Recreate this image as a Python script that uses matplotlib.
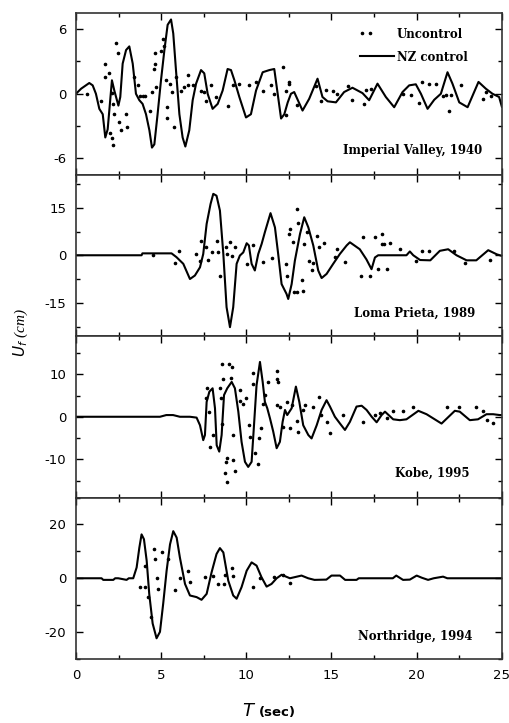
import matplotlib
matplotlib.use("Agg")
import matplotlib.pyplot as plt
import numpy as np
from matplotlib.ticker import MultipleLocator
from matplotlib.legend_handler import HandlerLine2D

plt.rcParams['axes.unicode_minus'] = False

# ---- Imperial Valley, 1940 ----
iv_t = [0, 0.3, 0.78, 0.98, 1.17, 1.37, 1.57, 1.72, 1.86, 2.05, 2.11, 2.25, 2.49, 2.6, 2.74, 2.94,
        3.13, 3.33, 3.52, 3.72, 3.91, 4.11, 4.31, 4.46, 4.6, 4.79, 4.99, 5.19, 5.38, 5.58, 5.71,
        5.87, 6.07, 6.26, 6.42, 6.65, 6.85, 7.05, 7.34, 7.53, 7.73, 8.02, 8.32, 8.61, 8.9, 9.1,
        9.3, 9.59, 9.98, 10.27, 10.57, 10.96, 11.35, 11.64, 11.84, 12.04, 12.23, 12.43, 12.62,
        12.81, 13.3, 13.69, 14.18, 14.47, 14.77, 15.26, 15.74, 16.23, 16.82, 17.21, 17.7, 18.19,
        18.68, 19.17, 19.56, 19.95, 20.25, 20.64, 21.03, 21.42, 21.81, 22.1, 22.5, 22.99, 23.63,
        24.06, 24.45, 24.84, 25.0]
iv_nz = [0, 0.47, 1.0, 0.78, 0, -1.4, -1.9, -4.06, -3.3, 0.16, 1.25, 0.3, -1.1, -0.3, 2.8, 4.06,
         4.4, 2.8, 0, -0.6, -0.94, -1.9, -3.4, -5.0, -4.7, -1.9, 1.25, 4.06, 6.4, 6.9, 5.6,
         2.2, -1.9, -4.06, -4.9, -3.4, -0.6, 0.94, 2.2, 1.9, 0, -1.4, -0.94, 0.3, 2.3, 2.2,
         1.25, -0.3, -2.2, -1.9, 0.3, 2.0, 2.2, 2.3, 0, -2.3, -1.9, -0.8, 0,
         0.16, -1.56, -0.47, 1.4, -0.3, -0.7, -0.8, 0.16, 0.56, 0.06, -0.6, 0.94, -0.3,
         -1.25, 0.16, 0.78, 0.88, 0, -1.4, -0.56, 0, 2.0, 0.94, -0.8, -1.25, 1.1,
         0.47, 0, -0.3, -1.2]
iv_dot_t = [0.65, 1.47, 1.72, 1.72, 1.96, 2.0, 2.11, 2.11, 2.15, 2.19, 2.25, 2.35, 2.45, 2.54,
            2.64, 2.94, 2.97, 3.42, 3.62, 3.78, 3.91, 4.05, 4.34, 4.46, 4.6, 4.66, 4.66, 4.7,
            4.99, 5.13, 5.19, 5.28, 5.32, 5.32, 5.54, 5.64, 5.77, 5.87, 6.16, 6.36, 6.56, 6.56,
            6.85, 7.34, 7.53, 7.63, 7.93, 8.22, 8.9, 9.2, 9.55, 10.18, 10.57, 10.96, 11.45,
            11.64, 12.17, 12.33, 12.52, 12.52, 12.32, 13.0, 14.08, 14.37, 14.67, 15.06, 15.35,
            15.94, 16.23, 16.92, 17.02, 17.31, 19.17, 19.66, 20.15, 20.34, 20.73, 21.12, 21.52,
            21.71, 21.91, 22.0, 22.6, 23.87, 24.06, 24.36]
iv_dot_u = [-0.06, -0.7, 2.8, 1.56, 1.9, -3.66, 0.06, -4.1, -4.75, -0.94, -1.9, 4.7, 3.8, -2.66,
            -3.4, -1.9, -3.1, 1.56, 0.78, -0.25, -0.25, -0.25, -1.56, 0.16, 2.3, 2.8, 3.8, 0.63,
            4.0, 5.06, 4.4, 1.25, -1.25, -2.25, 0.94, 0.16, -3.1, 1.56, 0.3, 0.63, 1.7, 0.78,
            0.78, 0.3, 0.16, -0.7, 0.78, -0.3, -1.1, 0.78, 0.88, 0.84, 1.1, 0.3, 0.78,
            0, 2.5, 0.25, 1.1, 0.94, -2.0, -1.0, 0.7, -0.7, 0.38, 0.3, -0.06,
            0.7, -0.6, -0.94, 0.38, 0.47, 0, -0.15, -0.9, 1.1, 0.94, 0.94, -0.25,
            -0.15, -1.56, -0.15, 0.78, -0.47, 0.16, -0.25]

# ---- Loma Prieta, 1989 ----
lp_t = [0, 3.85, 3.9, 5.1, 5.61, 5.9, 6.3, 6.69, 6.98, 7.28, 7.47, 7.67, 7.9, 8.06, 8.25, 8.45,
        8.65, 8.84, 9.04, 9.23, 9.43, 9.62, 9.82, 10.02, 10.15, 10.31, 10.5, 10.7, 10.9, 11.09,
        11.42, 11.68, 11.87, 12.07, 12.36, 12.46, 12.66, 12.85, 13.15, 13.4, 13.64, 13.93,
        14.22, 14.42, 14.71, 15.1, 15.49, 15.89, 16.08, 16.66, 17.05, 17.35, 17.55, 17.74,
        19.4, 19.6, 19.8, 20.2, 20.8, 21.36, 21.85, 22.34, 22.93, 23.5, 24.2, 24.7, 25.0]
lp_nz = [0, 0, 0.6, 0.6, 0.6, -0.6, -2.7, -7.5, -6.4, -3.8, 0.4, 9.9, 16.2, 19.4, 18.8, 14.1,
         0.4, -16.4, -22.7, -16.4, -2.7, -0.1, 0.9, 3.8, 3.1, -2.7, -4.8, 0.4, 3.6, 7.3,
         13.3, 8.8, 0.4, -9.1, -12.2, -13.8, -9.1, -1.7, 6.7, 12.0, 8.8, 3.1,
         -4.8, -7.2, -5.9, -2.7, 0.4, 3.1, 4.1, 1.9, -1.3, -4.4, -0.7, 0,
         0, 1.2, 0, -1.5, -1.6, 1.4, 1.9, 0, -1.6, -1.6, 1.6, 0.3, -0.2]
lp_dot_t = [4.54, 5.8, 6.04, 7.02, 7.28, 7.33, 7.63, 7.76, 7.96, 8.25, 8.35, 8.45, 8.8, 8.88,
            9.07, 9.13, 9.33, 10.02, 10.41, 11.0, 11.48, 12.32, 12.36, 12.56, 12.52, 12.72,
            12.8, 12.95, 12.99, 13.05, 13.24, 13.3, 13.38, 13.54, 13.69, 13.83, 13.93, 14.12,
            14.28, 14.55, 15.2, 15.3, 15.79, 16.86, 17.55, 17.94, 17.94, 18.1, 16.76, 17.25,
            17.74, 18.23, 18.43, 19.0, 19.99, 20.3, 20.7, 22.2, 22.83, 24.3]
lp_dot_u = [0, -2.5, 1.3, 0.4, -1.9, 4.6, 2.7, -1.5, 0.9, 4.6, 0.9, -6.4, 2.5, 0.4,
            4.1, -0.1, 2.7, -2.7, 3.1, -2.2, -0.8, -2.7, -6.4, 8.3, 6.7, 4.1,
            -11.7, -11.7, 14.6, 10.1, -7.8, -11.2, 3.6, 7.3, -1.7, -4.8, -2.5, 6.2,
            2.7, 3.8, -0.6, 2.0, -2.2, 5.8, 5.8, 6.6, 3.5, 3.5, -6.5, -6.5,
            -4.4, -4.4, 4.0, 1.9, -1.8, 1.2, 1.2, 1.4, -2.3, -1.6]

# ---- Kobe, 1995 ----
kb_t = [0, 4.93, 5.3, 5.7, 6.1, 6.69, 7.08, 7.28, 7.47, 7.57, 7.67, 7.83, 8.02, 8.16, 8.26,
        8.41, 8.55, 8.69, 8.88, 9.14, 9.33, 9.53, 9.72, 9.92, 10.11, 10.31, 10.45, 10.6, 10.8,
        10.96, 11.09, 11.23, 11.39, 11.58, 11.78, 11.97, 12.13, 12.27, 12.4, 12.66, 12.91,
        13.11, 13.34, 13.64, 13.83, 14.13, 14.42, 14.71, 14.91, 15.2, 15.5, 15.79, 16.08,
        16.47, 16.77, 17.06, 17.36, 17.65, 17.94, 18.14, 18.62, 19.01, 19.4, 20.1, 20.58,
        21.46, 22.24, 22.53, 23.12, 23.6, 24.1, 24.49, 24.88, 25.0]
kb_nz = [0, 0, 0.4, 0.4, 0, 0, -0.2, -2.0, -5.5, -4.3, 3.5, 5.9, 6.7, 2.0, -6.7,
         -8.2, -4.3, 5.1, 6.7, 8.2, 6.7, 1.2, -5.9, -10.6, -11.8, -10.6, -2.0, 7.4, 12.9,
         8.2, 3.5, 2.0, -0.4, -3.5, -7.4, -5.9, -1.2, 1.6, 0.4, 2.0, 7.1,
         3.5, -2.0, -4.3, -5.1, -2.0, 1.6, 3.9, 2.4, 0, -1.6, -3.1, -1.2,
         2.4, 2.6, 1.6, 0, -1.3, 0.4, 1.2, -0.6, -0.8, -0.6, 1.4, 0.6,
         -1.6, 1.4, 1.2, -0.8, -0.6, 0.6, 0.6, 0.4, 0.4]
kb_dot_t = [8.59, 9.0, 9.14, 8.65, 9.1, 7.71, 7.63, 7.8, 8.06, 7.86, 8.45, 8.49, 8.55, 8.84,
            8.8, 8.74, 8.88, 9.19, 9.33, 9.23, 9.62, 9.62, 9.82, 9.98, 10.17, 10.21, 10.37,
            10.41, 10.5, 10.7, 10.76, 10.84, 10.99, 11.09, 11.29, 11.82, 11.78, 11.88, 11.78,
            11.97, 12.36, 12.17, 12.56, 12.66, 12.95, 13.05, 13.34, 13.44, 13.93, 14.28, 14.36,
            14.71, 14.91, 15.69, 16.87, 17.55, 17.84, 18.24, 18.62, 19.2, 19.8, 21.78, 22.5,
            23.5, 23.9, 24.1, 24.5]
kb_dot_u = [12.3, 12.3, 11.8, 9.0, 9.2, 6.7, 4.3, 1.2, -4.3, -7.1, 6.7, 4.3, -1.6, -9.8,
            -10.7, -13.3, -15.3, -10.2, -12.8, -4.3, 6.3, 3.7, 3.1, 4.3, -2.0, -4.7, 10.4,
            7.8, -8.6, -11.0, -5.1, -2.7, 3.1, 5.1, 8.2, 10.7, 8.9, 8.2, 2.7,
            2.4, 3.5, -2.4, -2.6, 2.7, -1.0, -3.5, 1.6, 2.7, 2.4, 4.7, 0.4,
            -1.2, -3.9, 0.4, -1.3, 0.5, 1.0, -0.4, 1.4, 1.4, 2.2, 2.2, 2.2,
            2.2, 1.4, -0.8, -1.4]

# ---- Northridge, 1994 ----
nr_t = [0, 1.5, 1.6, 2.19, 2.3, 2.48, 2.97, 3.1, 3.36, 3.56, 3.72, 3.85, 3.99, 4.15, 4.3, 4.5,
        4.73, 4.93, 5.12, 5.32, 5.52, 5.71, 5.91, 6.1, 6.4, 6.69, 7.08, 7.37, 7.67, 7.96, 8.25,
        8.45, 8.65, 8.94, 9.23, 9.43, 9.72, 10.02, 10.31, 10.6, 10.89, 11.19, 11.48, 11.78,
        12.07, 12.56, 13.24, 13.63, 14.0, 14.7, 15.0, 15.5, 15.8, 16.47, 16.6, 18.6, 18.8,
        19.2, 19.6, 20.0, 20.3, 20.67, 21.0, 21.55, 21.8, 25.0]
nr_nz = [0, 0, -0.6, -0.6, 0, 0, -0.6, 0, 0, 4.0, 11.4, 16.3, 14.5, 6.5, -5.8, -16.8,
         -22.3, -19.9, -9.4, 2.8, 12.6, 17.5, 15.1, 7.7, -2.1, -6.4, -7.0, -8.0, -5.8, 2.2, 9.0,
         11.2, 9.6, -0.9, -6.4, -7.6, -3.3, 2.8, 5.9, 4.7, 0.4, -3.1, -2.1, 0,
         1.3, 0, 1.0, 0, -0.6, -0.5, 1.0, 1.0, -0.6, -0.6, 0, 0, 1.0,
         -0.6, -0.5, 1.0, 0.2, -0.6, 0, 0.6, 0, 0]
nr_dot_t = [3.76, 4.05, 4.05, 4.25, 4.38, 4.58, 4.64, 4.73, 4.83, 5.03, 5.42, 5.81, 6.1, 6.6,
            6.69, 7.57, 8.06, 8.35, 8.74, 8.68, 9.13, 9.23, 10.4, 10.8, 11.6, 12.56, 12.17]
nr_dot_u = [-3.3, 4.7, -3.1, -7.0, -14.4, 10.8, 7.1, 0, -3.9, 9.6, 7.1, -4.5, 0, 2.8,
            -1.5, 0.6, 1.0, -2.3, 1.3, -2.3, 3.8, 1.0, -3.3, 0.2, 0.3, -1.8, 1.3]

panels = [
    (iv_t, iv_nz, iv_dot_t, iv_dot_u, 'Imperial Valley, 1940', 7.5, 6, 0.953, 0.15),
    (lp_t, lp_nz, lp_dot_t, lp_dot_u, 'Loma Prieta, 1989', 25.5, 15, 0.937, 0.138),
    (kb_t, kb_nz, kb_dot_t, kb_dot_u, 'Kobe, 1995', 19, 10, 0.925, 0.151),
    (nr_t, nr_nz, nr_dot_t, nr_dot_u, 'Northridge, 1994', 30, 20, 0.932, 0.137),
]

serif_bold = {'family': 'DejaVu Serif', 'weight': 'bold', 'size': 8.5}


class LeftDots(HandlerLine2D):
    # two dots sitting in the left part of the handle, like the original key
    def get_xdata(self, legend, xdescent, ydescent, width, height, fontsize):
        xd = np.array([0.06, 0.3]) * width - xdescent
        return xd, xd


fig, axes = plt.subplots(4, 1, figsize=(5.1, 7.23), dpi=100, sharex=True)
fig.subplots_adjust(left=0.149, right=0.984, top=0.982, bottom=0.0885, hspace=0)

for ax, (t, nz, dt, du, name, lim, step, tx, ty) in zip(axes, panels):
    dots, = ax.plot(dt, du, linestyle='none', marker='o', markersize=1.6, color='black',
                    label='Uncontrol')
    ax.plot(t, nz, color='black', linewidth=1.5, label='NZ control')
    ax.set_xlim(0, 25)
    ax.set_ylim(-lim, lim)
    ax.yaxis.set_major_locator(MultipleLocator(step))
    ax.yaxis.set_minor_locator(MultipleLocator(step / 2))
    ax.xaxis.set_major_locator(MultipleLocator(5))
    ax.xaxis.set_minor_locator(MultipleLocator(2.5))
    ax.tick_params(which='both', direction='in', top=True, right=True, labelsize=9.5,
                   width=1.0)
    ax.tick_params(which='major', length=5)
    ax.tick_params(which='minor', length=3)
    ax.tick_params(axis='y', pad=7)
    ax.tick_params(axis='x', pad=7)
    for s in ax.spines.values():
        s.set_linewidth(1.2)
        s.set_color('#333333')
    ax.text(tx, ty, name, transform=ax.transAxes, ha='right', va='center',
            fontdict=serif_bold)
    if ax is axes[0]:
        dots0 = dots

axes[0].legend(loc='upper left', bbox_to_anchor=(0.667, 0.91), frameon=False,
               prop=serif_bold, borderpad=0, borderaxespad=0,
               handlelength=2.9, handletextpad=0.2, labelspacing=0.85,
               handler_map={dots0: LeftDots(numpoints=2)})

axes[-1].set_xticks([0, 5, 10, 15, 20, 25])

fig.text(0.04, 0.54, r'$U_f$ (cm)', rotation=90, ha='center', va='center',
         family='Liberation Serif', fontstyle='italic', fontsize=11)
fig.text(0.502, 0.016, r'$T$', ha='right', va='center', family='Liberation Serif',
         fontsize=13)
fig.text(0.507, 0.014, '(sec)', ha='left', va='center', fontsize=9.5, fontweight='bold')

plt.savefig('out.png', dpi=100)
